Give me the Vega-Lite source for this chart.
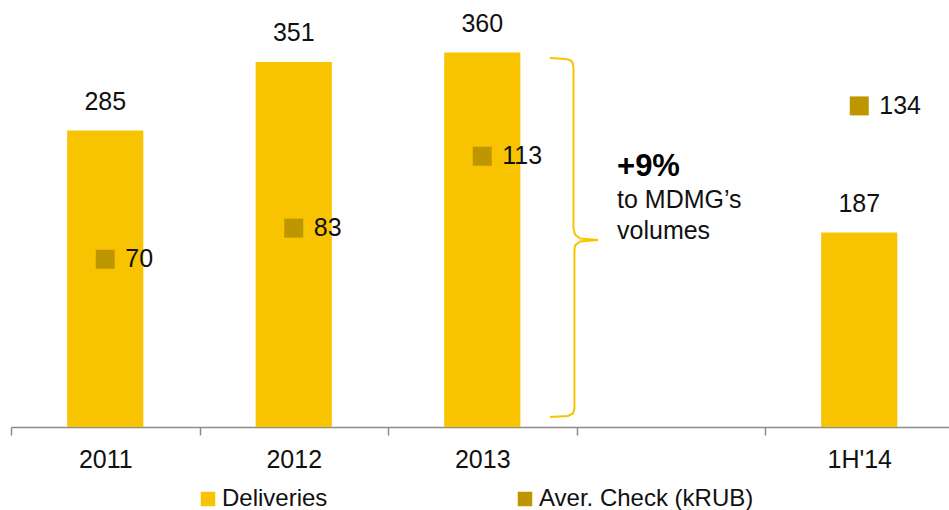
{
  "$schema": "https://vega.github.io/schema/vega-lite/v6.json",
  "width": 938,
  "height": 427,
  "autosize": "none",
  "padding": {"left": 11, "top": 0, "right": 0, "bottom": 83},
  "background": "white",
  "config": {"view": {"stroke": null}, "font": "Liberation Sans"},
  "datasets": {
    "main": [
      {"period": "2011", "deliveries": 285, "check": 70},
      {"period": "2012", "deliveries": 351, "check": 83},
      {"period": "2013", "deliveries": 360, "check": 113},
      {"period": "1H'14", "deliveries": 187, "check": 134}
    ],
    "brace": [
      {"i": 1, "bx": 2.859, "by": 354.8},
      {"i": 2, "bx": 2.944, "by": 353.8},
      {"i": 3, "bx": 2.971, "by": 352.4},
      {"i": 4, "bx": 2.981, "by": 349.5},
      {"i": 5, "bx": 2.984, "by": 344.7},
      {"i": 6, "bx": 2.984, "by": 190.9},
      {"i": 7, "bx": 2.992, "by": 185.1},
      {"i": 8, "bx": 3.019, "by": 181.3},
      {"i": 9, "bx": 3.114, "by": 179.8},
      {"i": 10, "bx": 3.019, "by": 178.4},
      {"i": 11, "bx": 2.992, "by": 174.5},
      {"i": 12, "bx": 2.989, "by": 169.7},
      {"i": 13, "bx": 2.989, "by": 17.8},
      {"i": 14, "bx": 2.981, "by": 13.0},
      {"i": 15, "bx": 2.955, "by": 10.6},
      {"i": 16, "bx": 2.859, "by": 9.6}
    ],
    "headline": [{"ax": 3.215, "ay": 241.8, "t": "+9%"}],
    "note": [
      {"ax": 3.215, "ay": 211.0, "t": "to MDMG’s"},
      {"ax": 3.215, "ay": 180.3, "t": "volumes"}
    ]
  },
  "layer": [
    {
      "data": {"name": "main"},
      "mark": {"type": "bar", "width": {"band": 0.404}},
      "encoding": {
        "x": {
          "field": "period", "type": "nominal",
          "scale": {"domain": ["2011", "2012", "2013", "gap", "1H'14"], "range": [0, 942.5], "paddingInner": 0, "paddingOuter": 0},
          "axis": {
            "title": null, "tickBand": "extent", "tickSize": 8, "tickColor": "#8c8c8c", "tickWidth": 1.5,
            "domainColor": "#8c8c8c", "domainWidth": 1.5, "labelAngle": 0,
            "labelFontSize": 25, "labelFont": "Liberation Sans", "labelColor": "#111111", "labelPadding": 12,
            "labelExpr": "datum.value == 'gap' ? '' : datum.value", "grid": false
          }
        },
        "y": {"field": "deliveries", "type": "quantitative", "scale": {"domain": [0, 410.6], "nice": false}, "axis": null},
        "color": {
          "datum": "Deliveries", "type": "nominal",
          "scale": {"domain": ["Deliveries", "Aver. Check (kRUB)"], "range": ["#F8C300", "#BE9600"]},
          "legend": {
            "orient": "none", "legendX": 185, "legendY": 487, "direction": "horizontal", "title": null,
            "symbolType": "square", "symbolSize": 210, "symbolStrokeWidth": 0, "symbolOpacity": 1,
            "labelFontSize": 24, "labelFont": "Liberation Sans", "labelColor": "#111111", "labelOffset": 2,
            "columnPadding": 185, "padding": 0, "labelLimit": 400
          }
        }
      }
    },
    {
      "data": {"name": "main"},
      "mark": {"type": "text", "fontSize": 25, "font": "Liberation Sans", "color": "#111111", "baseline": "alphabetic", "dy": -21},
      "encoding": {
        "x": {"field": "period", "type": "nominal", "scale": {"domain": ["2011", "2012", "2013", "gap", "1H'14"], "range": [0, 942.5], "paddingInner": 0, "paddingOuter": 0}, "axis": null},
        "y": {"field": "deliveries", "type": "quantitative", "scale": {"domain": [0, 410.6], "nice": false}, "axis": null},
        "text": {"field": "deliveries", "type": "quantitative"}
      }
    },
    {
      "data": {"name": "main"},
      "mark": {"type": "point", "shape": "square", "size": 361, "filled": true, "opacity": 1, "strokeWidth": 0},
      "encoding": {
        "x": {"field": "period", "type": "nominal", "scale": {"domain": ["2011", "2012", "2013", "gap", "1H'14"], "range": [0, 942.5], "paddingInner": 0, "paddingOuter": 0}, "axis": null},
        "y": {"field": "check", "type": "quantitative", "scale": {"domain": [0, 178.2], "nice": false}, "axis": null},
        "color": {"datum": "Aver. Check (kRUB)", "type": "nominal"}
      }
    },
    {
      "data": {"name": "main"},
      "mark": {"type": "text", "fontSize": 25, "font": "Liberation Sans", "color": "#111111", "align": "left", "baseline": "middle", "dx": 20},
      "encoding": {
        "x": {"field": "period", "type": "nominal", "scale": {"domain": ["2011", "2012", "2013", "gap", "1H'14"], "range": [0, 942.5], "paddingInner": 0, "paddingOuter": 0}, "axis": null},
        "y": {"field": "check", "type": "quantitative", "scale": {"domain": [0, 178.2], "nice": false}, "axis": null},
        "text": {"field": "check", "type": "quantitative"}
      }
    },
    {
      "data": {"name": "brace"},
      "mark": {"type": "line", "color": "#F8C300", "strokeWidth": 2, "interpolate": "linear"},
      "encoding": {
        "x": {"field": "bx", "type": "quantitative", "scale": {"domain": [0, 5], "range": [0, 942.5], "nice": false, "zero": false}, "axis": null},
        "y": {"field": "by", "type": "quantitative", "scale": {"domain": [0, 410.6], "nice": false}, "axis": null},
        "order": {"field": "i", "type": "quantitative"}
      }
    },
    {
      "data": {"name": "headline"},
      "mark": {"type": "text", "fontSize": 31, "fontWeight": "bold", "font": "Liberation Sans", "color": "#000000", "align": "left", "baseline": "alphabetic"},
      "encoding": {
        "x": {"field": "ax", "type": "quantitative", "scale": {"domain": [0, 5], "range": [0, 942.5], "nice": false, "zero": false}, "axis": null},
        "y": {"field": "ay", "type": "quantitative", "scale": {"domain": [0, 410.6], "nice": false}, "axis": null},
        "text": {"field": "t", "type": "nominal"}
      }
    },
    {
      "data": {"name": "note"},
      "mark": {"type": "text", "fontSize": 25, "font": "Liberation Sans", "color": "#111111", "align": "left", "baseline": "alphabetic"},
      "encoding": {
        "x": {"field": "ax", "type": "quantitative", "scale": {"domain": [0, 5], "range": [0, 942.5], "nice": false, "zero": false}, "axis": null},
        "y": {"field": "ay", "type": "quantitative", "scale": {"domain": [0, 410.6], "nice": false}, "axis": null},
        "text": {"field": "t", "type": "nominal"}
      }
    }
  ],
  "resolve": {"scale": {"x": "independent", "y": "independent"}}
}
